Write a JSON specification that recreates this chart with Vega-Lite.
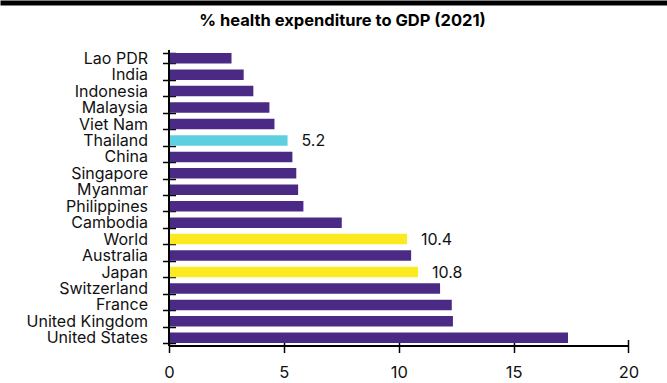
{
  "$schema": "https://vega.github.io/schema/vega-lite/v6.json",
  "autosize": "none",
  "width": 667,
  "height": 296,
  "padding": {"left": 0, "right": 0, "top": 50, "bottom": 37},
  "background": "white",
  "data": {
    "values": [
      {"country": "Lao PDR", "value": 2.72, "group": "base"},
      {"country": "India", "value": 3.25, "group": "base"},
      {"country": "Indonesia", "value": 3.67, "group": "base"},
      {"country": "Malaysia", "value": 4.37, "group": "base"},
      {"country": "Viet Nam", "value": 4.59, "group": "base"},
      {"country": "Thailand", "value": 5.16, "group": "thai", "label": "5.2"},
      {"country": "China", "value": 5.37, "group": "base"},
      {"country": "Singapore", "value": 5.54, "group": "base"},
      {"country": "Myanmar", "value": 5.62, "group": "base"},
      {"country": "Philippines", "value": 5.85, "group": "base"},
      {"country": "Cambodia", "value": 7.52, "group": "base"},
      {"country": "World", "value": 10.36, "group": "ref", "label": "10.4"},
      {"country": "Australia", "value": 10.54, "group": "base"},
      {"country": "Japan", "value": 10.84, "group": "ref", "label": "10.8"},
      {"country": "Switzerland", "value": 11.8, "group": "base"},
      {"country": "France", "value": 12.31, "group": "base"},
      {"country": "United Kingdom", "value": 12.36, "group": "base"},
      {"country": "United States", "value": 17.37, "group": "base"}
    ]
  },
  "layer": [
    {
      "mark": {"type": "bar"},
      "encoding": {
        "x": {
          "field": "value",
          "type": "quantitative",
          "scale": {"domain": [-7.36, 21.68], "nice": false, "zero": false},
          "axis": {
            "orient": "bottom",
            "values": [0, 5, 10, 15, 20],
            "domain": false,
            "grid": false,
            "tickSize": 13,
            "tickWidth": 1.5,
            "tickColor": "black",
            "offset": -6.5,
            "labelFontSize": 16.5,
            "labelFont": "Inter",
            "labelColor": "#111111",
            "labelPadding": 12,
            "title": null
          }
        },
        "y": {
          "field": "country",
          "type": "nominal",
          "sort": null,
          "scale": {"paddingInner": 0.36, "paddingOuter": 0.18},
          "axis": {
            "orient": "left",
            "offset": -175.5,
            "domain": false,
            "tickBand": "extent",
            "tickSize": 13,
            "tickWidth": 1.5,
            "tickColor": "black",
            "labelFontSize": 16,
            "labelFont": "Inter",
            "labelColor": "#111111",
            "labelPadding": 15,
            "title": null
          }
        },
        "color": {
          "field": "group",
          "type": "nominal",
          "scale": {"domain": ["base", "thai", "ref"], "range": ["#4B2A86", "#5ECFE1", "#FBEA1F"]},
          "legend": null
        }
      }
    },
    {
      "mark": {"type": "rule", "color": "black", "strokeWidth": 1.5},
      "encoding": {
        "x": {
          "datum": 0,
          "axis": {
            "orient": "bottom",
            "offset": -343.5,
            "domain": true,
            "domainWidth": 5,
            "domainColor": "black",
            "ticks": false,
            "labels": false,
            "grid": false,
            "title": "% health expenditure to GDP (2021)",
            "titleFont": "Inter",
            "titleFontSize": 16.5,
            "titleFontWeight": "bold",
            "titleColor": "black",
            "titleAlign": "center",
            "titleBaseline": "alphabetic",
            "titleAnchor": null,
            "titleX": 342,
            "titleY": 23
          }
        }
      }
    },
    {
      "mark": {"type": "rule", "color": "black", "strokeWidth": 1.5},
      "encoding": {
        "x": {"datum": 0, "axis": null},
        "x2": {"datum": 20},
        "y": {"value": "height"}
      }
    },
    {
      "transform": [{"filter": "datum.label != null"}],
      "mark": {"type": "text", "align": "left", "baseline": "middle", "dx": 14, "dy": 1, "fontSize": 16, "font": "Inter", "color": "#111111"},
      "encoding": {
        "x": {"field": "value", "type": "quantitative", "axis": null},
        "y": {"field": "country", "type": "nominal", "sort": null, "axis": null},
        "text": {"field": "label"}
      }
    }
  ],
  "resolve": {"axis": {"x": "independent", "y": "independent"}},
  "config": {"view": {"stroke": null}}
}
